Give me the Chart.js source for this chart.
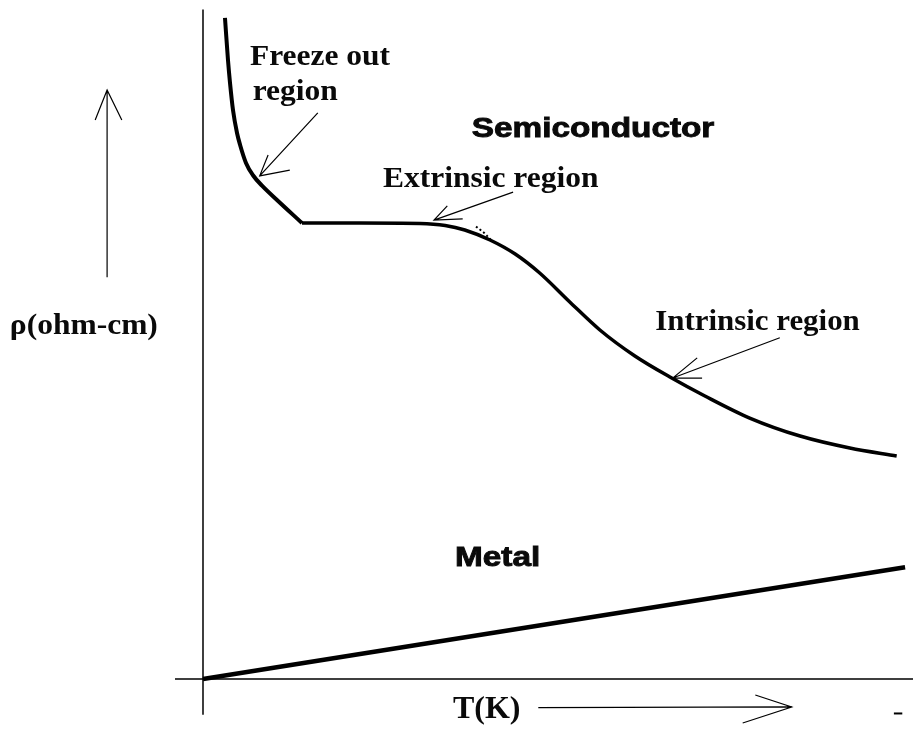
<!DOCTYPE html>
<html>
<head>
<meta charset="utf-8">
<script src="https://cdn.jsdelivr.net/npm/chart.js@4.4.1/dist/chart.umd.min.js"></script>
<style>
  html, body { margin: 0; padding: 0; background: #fff; }
  #wrap { width: 913px; height: 729px; }
</style>
</head>
<body>
<div id="wrap"><canvas id="chart" width="913" height="729"></canvas></div>
<script>
// temperature and resistivity (arbitrary units)
// freeze-out branch, ends at the sharp corner where the plateau starts
const freezeT   = [3.14, 3.57, 3.86, 4.29, 4.86, 5.29, 6.14, 7.14, 8.43, 10.57, 14.14];
const freezeRho = [101.7, 95.2, 91.7, 87.5, 84.0, 82.2, 79.4, 77.5, 75.9, 73.7, 70.15];

// extrinsic plateau + intrinsic fall
const semiT   = [14.14, 22.4, 31.0, 34.6, 37.4, 41.0, 44.6, 48.1, 52.4, 56.7, 61.7, 66.7, 71.7, 78.1, 85.3, 92.4, 99.1];
const semiRho = [70.15, 70.15, 70.08, 69.77, 69.08, 67.54, 65.38, 62.46, 58.0, 53.69, 49.69, 46.46, 43.54, 40.15, 37.38, 35.54, 34.31];

// the little dotted stroke drawn above the knee of the curve
const dotT   = [39.0, 40.1, 41.1];
const dotRho = [69.6, 68.7, 67.6];

const metalT   = [0, 100.3];
const metalRho = [0, 17.2];

// visible window of both axes
const xMin = -29, xMax = 101.43;
const yMin = -7.69, yMax = 104.46;

const toPts = (xs, ys) => xs.map((x, i) => ({ x, y: ys[i] }));

// sketch decorations: labels and arrows, in data units
const labels = [
  { text: 'Freeze out',       x: 6.7,  y: 94.5, font: 'bold 30px "Liberation Serif"', sx: 1.05, w: 0 },
  { text: 'region',           x: 7.1,  y: 89.0, font: 'bold 30px "Liberation Serif"', sx: 1.05, w: 0 },
  { text: 'Semiconductor',    x: 38.4, y: 83.4, font: 'bold 28px "Liberation Sans"',  sx: 1.19, w: 0.9 },
  { text: 'Extrinsic region', x: 25.7, y: 75.7, font: 'bold 30px "Liberation Serif"', sx: 1.05, w: 0 },
  { text: 'Intrinsic region', x: 64.6, y: 53.7, font: 'bold 30px "Liberation Serif"', sx: 1.03, w: 0 },
  { text: 'Metal',            x: 36.0, y: 17.4, font: 'bold 28px "Liberation Sans"',  sx: 1.19, w: 0.9 },
  { text: 'ρ(ohm-cm)',        x: -27.6, y: 53.1, font: 'bold 30px "Liberation Serif"', sx: 1.05, w: 0 },
  { text: 'T(K)',             x: 35.7, y: -6.0, font: 'bold 32px "Liberation Serif"', sx: 1.0, w: 0 }
];

const arrows = [
  // [tail x, tail y, tip x, tip y, head1 x, head1 y, head2 x, head2 y]
  [16.4, 87.1, 8.1, 77.4, 9.3, 80.6, 12.4, 78.3],
  [44.3, 74.9, 33.0, 70.6, 34.9, 72.8, 37.1, 70.8],
  [82.4, 52.5, 67.1, 46.3, 70.6, 49.4, 71.3, 46.3],
  [-13.7, 61.8, -13.7, 90.6, -15.4, 86.0, -11.6, 86.0],
  [47.9, -4.4, 84.1, -4.3, 78.9, -2.46, 77.1, -6.77]
];

const sketchPlugin = {
  id: 'sketch',
  afterDatasetsDraw(chart) {
    const { ctx, scales: { x, y } } = chart;
    const px = v => x.getPixelForValue(v);
    const py = v => y.getPixelForValue(v);
    ctx.save();

    // axes
    ctx.strokeStyle = '#000';
    ctx.lineWidth = 1.5;
    ctx.beginPath();
    ctx.moveTo(px(0), py(103));
    ctx.lineTo(px(0), py(-5.5));
    ctx.moveTo(px(-4), py(0));
    ctx.lineTo(px(xMax), py(0));
    ctx.stroke();

    // arrows
    ctx.lineWidth = 1.2;
    arrows.forEach(a => {
      ctx.beginPath();
      ctx.moveTo(px(a[0]), py(a[1]));
      ctx.lineTo(px(a[2]), py(a[3]));
      ctx.moveTo(px(a[4]), py(a[5]));
      ctx.lineTo(px(a[2]), py(a[3]));
      ctx.lineTo(px(a[6]), py(a[7]));
      ctx.stroke();
    });

    // stray dash at bottom right
    ctx.lineWidth = 2;
    ctx.beginPath();
    ctx.moveTo(px(98.7), py(-5.3));
    ctx.lineTo(px(99.9), py(-5.3));
    ctx.stroke();

    // labels
    ctx.fillStyle = '#0a0a0a';
    ctx.strokeStyle = '#0a0a0a';
    ctx.textBaseline = 'alphabetic';
    ctx.textAlign = 'left';
    labels.forEach(l => {
      ctx.save();
      ctx.font = l.font;
      ctx.translate(px(l.x), py(l.y));
      ctx.scale(l.sx, 1);
      ctx.fillText(l.text, 0, 0);
      if (l.w) {
        ctx.lineWidth = l.w;
        ctx.strokeText(l.text, 0, 0);
      }
      ctx.restore();
    });

    ctx.restore();
  }
};

const curveStyle = {
  showLine: true,
  borderColor: '#000',
  borderWidth: 3.5,
  pointRadius: 0,
  cubicInterpolationMode: 'monotone'
};

new Chart(document.getElementById('chart'), {
  type: 'scatter',
  data: {
    datasets: [
      { label: 'Freeze out', data: toPts(freezeT, freezeRho), ...curveStyle, borderWidth: 4 },
      { label: 'Semiconductor', data: toPts(semiT, semiRho), ...curveStyle },
      {
        label: 'dotted',
        data: toPts(dotT, dotRho),
        showLine: true,
        borderColor: '#000',
        borderWidth: 2,
        borderDash: [2, 2.5],
        pointRadius: 0
      },
      {
        label: 'Metal',
        data: toPts(metalT, metalRho),
        showLine: true,
        borderColor: '#000',
        borderWidth: 4.5,
        pointRadius: 0
      }
    ]
  },
  options: {
    responsive: false,
    animation: false,
    devicePixelRatio: 1,
    layout: { padding: 0 },
    plugins: {
      legend: { display: false },
      tooltip: { enabled: false }
    },
    scales: {
      x: { type: 'linear', min: xMin, max: xMax, display: false },
      y: { type: 'linear', min: yMin, max: yMax, display: false }
    }
  },
  plugins: [sketchPlugin]
});
</script>
</body>
</html>
